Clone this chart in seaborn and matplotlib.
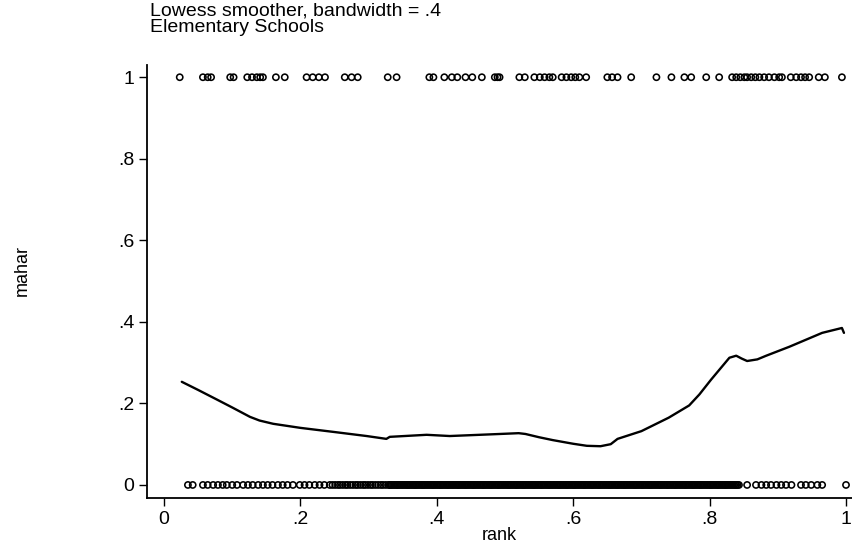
import matplotlib
matplotlib.use("Agg")
import matplotlib.pyplot as plt
import seaborn as sns
import pandas as pd

# ---- data ----
rank_ones = [0.023, 0.057, 0.064, 0.069, 0.097, 0.102, 0.122, 0.129, 0.136, 0.141,
             0.145, 0.164, 0.177, 0.209, 0.218, 0.227, 0.236, 0.265, 0.275, 0.284,
             0.328, 0.341, 0.389, 0.395, 0.411, 0.422, 0.430, 0.442, 0.452, 0.466,
             0.485, 0.489, 0.492, 0.521, 0.529, 0.543, 0.551, 0.558, 0.565, 0.570,
             0.583, 0.590, 0.597, 0.603, 0.609, 0.619, 0.650, 0.657, 0.665, 0.685,
             0.722, 0.744, 0.763, 0.773, 0.795, 0.814, 0.833, 0.839, 0.845, 0.851,
             0.855, 0.861, 0.867, 0.873, 0.880, 0.887, 0.895, 0.902, 0.906, 0.919,
             0.927, 0.934, 0.940, 0.946, 0.960, 0.969, 0.994]

rank_zeros_sparse = [0.035, 0.042, 0.057, 0.064, 0.072, 0.079, 0.086, 0.092, 0.100,
                     0.107, 0.116, 0.123, 0.130, 0.138, 0.145, 0.152, 0.159, 0.167,
                     0.174, 0.181, 0.189, 0.199, 0.206, 0.213, 0.221, 0.228, 0.235,
                     0.243]

rank_zeros_dense_a = [
    0.247, 0.251, 0.255, 0.258, 0.262, 0.266, 0.269, 0.273, 0.277, 0.281,
    0.284, 0.288, 0.292, 0.295, 0.299, 0.303, 0.306, 0.310, 0.314, 0.318,
    0.321, 0.325, 0.329, 0.332, 0.336, 0.340, 0.343, 0.347, 0.351, 0.355,
    0.358, 0.362, 0.366, 0.369, 0.373, 0.377, 0.380, 0.384, 0.388, 0.392,
    0.395, 0.399, 0.403, 0.406, 0.410, 0.414, 0.417, 0.421, 0.425, 0.429,
    0.432, 0.436, 0.440, 0.443, 0.447, 0.451, 0.454, 0.458, 0.462, 0.466,
    0.469, 0.473, 0.477, 0.480, 0.484, 0.488, 0.491, 0.495, 0.499, 0.503,
    0.506, 0.510, 0.514, 0.517, 0.521, 0.525, 0.528, 0.532, 0.536, 0.540,
    0.543, 0.547, 0.551, 0.554, 0.558, 0.562, 0.565, 0.569, 0.573, 0.577,
    0.580, 0.584, 0.588, 0.591, 0.595, 0.599, 0.602, 0.606, 0.610, 0.614,
    0.617, 0.621, 0.625, 0.628, 0.632, 0.636, 0.639, 0.643, 0.647, 0.651,
    0.654, 0.658, 0.662, 0.665, 0.669, 0.673, 0.676, 0.680, 0.684, 0.688,
    0.691, 0.695, 0.699, 0.702, 0.706, 0.710, 0.713, 0.717, 0.721, 0.725,
    0.728, 0.732, 0.736, 0.739, 0.743, 0.747, 0.750, 0.754, 0.758, 0.762,
    0.765, 0.769, 0.773, 0.776, 0.780, 0.784, 0.787, 0.791, 0.795, 0.799,
    0.802, 0.806, 0.810, 0.813, 0.817, 0.821, 0.824, 0.828, 0.832, 0.836,
    0.839, 0.843]

rank_zeros_dense_b = [
    0.331, 0.334, 0.338, 0.342, 0.345, 0.349, 0.353, 0.357, 0.360, 0.364,
    0.368, 0.371, 0.375, 0.379, 0.382, 0.386, 0.390, 0.394, 0.397, 0.401,
    0.405, 0.408, 0.412, 0.416, 0.419, 0.423, 0.427, 0.431, 0.434, 0.438,
    0.442, 0.445, 0.449, 0.453, 0.456, 0.460, 0.464, 0.468, 0.471, 0.475,
    0.479, 0.482, 0.486, 0.490, 0.493, 0.497, 0.501, 0.505, 0.508, 0.512,
    0.516, 0.519, 0.523, 0.527, 0.530, 0.534, 0.538, 0.542, 0.545, 0.549,
    0.553, 0.556, 0.560, 0.564, 0.567, 0.571, 0.575, 0.579, 0.582, 0.586,
    0.590, 0.593, 0.597, 0.601, 0.604, 0.608, 0.612, 0.616, 0.619, 0.623,
    0.627, 0.630, 0.634, 0.638, 0.641, 0.645, 0.649, 0.653, 0.656, 0.660,
    0.664, 0.667, 0.671, 0.675, 0.678, 0.682, 0.686, 0.690, 0.693, 0.697,
    0.701, 0.704, 0.708, 0.712, 0.715, 0.719, 0.723, 0.727, 0.730, 0.734,
    0.738, 0.741, 0.745, 0.749, 0.752, 0.756, 0.760, 0.764, 0.767, 0.771,
    0.775, 0.778, 0.782, 0.786, 0.789, 0.793, 0.797, 0.801, 0.804, 0.808,
    0.812, 0.815, 0.819, 0.823, 0.826, 0.830, 0.834, 0.838, 0.841]

rank_zeros_tail = [0.855, 0.868, 0.876, 0.883, 0.890, 0.898, 0.905, 0.912, 0.920,
                   0.934, 0.941, 0.949, 0.958, 0.965, 1.000]

lowess_x = [0.026, 0.050, 0.078, 0.100, 0.126, 0.140, 0.160, 0.180, 0.200, 0.249,
            0.297, 0.326, 0.331, 0.385, 0.419, 0.492, 0.520, 0.530, 0.550, 0.570,
            0.600, 0.620, 0.640, 0.655, 0.665, 0.700, 0.740, 0.770, 0.785, 0.802,
            0.818, 0.829, 0.839, 0.847, 0.855, 0.870, 0.883, 0.917, 0.965, 0.994,
            0.997]
lowess_y = [0.253, 0.233, 0.209, 0.190, 0.167, 0.158, 0.150, 0.145, 0.140, 0.130,
            0.120, 0.113, 0.118, 0.123, 0.120, 0.125, 0.127, 0.125, 0.117, 0.110,
            0.101, 0.096, 0.095, 0.100, 0.113, 0.132, 0.165, 0.195, 0.222, 0.258,
            0.290, 0.312, 0.317, 0.310, 0.304, 0.308, 0.317, 0.339, 0.373, 0.385,
            0.373]

x_ticks = [0, 0.2, 0.4, 0.6, 0.8, 1.0]
x_ticklabels = ["0", ".2", ".4", ".6", ".8", "1"]
y_ticks = [0, 0.2, 0.4, 0.6, 0.8, 1.0]
y_ticklabels = ["0", ".2", ".4", ".6", ".8", "1"]

# ---- build tables ----
rank_zeros = rank_zeros_sparse + rank_zeros_dense_a + rank_zeros_dense_b + rank_zeros_tail
pts = pd.DataFrame({
    "rank": rank_ones + rank_zeros,
    "mahar": [1.0] * len(rank_ones) + [0.0] * len(rank_zeros),
})
curve = pd.DataFrame({"rank": lowess_x, "mahar": lowess_y})

sns.set_theme(style="ticks")
plt.rcParams["font.family"] = ["Liberation Sans", "DejaVu Sans"]

fig = plt.figure(figsize=(8.53, 5.5), dpi=100)
ax = fig.add_axes([147 / 853, 1 - 498 / 550, 1 - 147 / 853 - 0.001, (498 - 65) / 550])

sns.scatterplot(data=pts, x="rank", y="mahar", ax=ax, marker="o", s=20,
                facecolors="none", edgecolors="black", linewidth=1.15, zorder=3)
sns.lineplot(data=curve, x="rank", y="mahar", ax=ax, sort=False, estimator=None,
             color="black", linewidth=1.7, zorder=4)

ax.set_xlim(-0.025, 1.009)
ax.set_ylim(-0.032, 1.03)
ax.set_xticks(x_ticks)
ax.set_xticklabels(x_ticklabels, fontsize=14)
ax.set_yticks(y_ticks)
ax.set_yticklabels(y_ticklabels, fontsize=14)
ax.tick_params(axis="both", direction="out", length=6, width=1.0, color="black",
               labelcolor="black", pad=3)
for side in ["top", "right"]:
    ax.spines[side].set_visible(False)
for side in ["left", "bottom"]:
    ax.spines[side].set_color("black")
    ax.spines[side].set_linewidth(1.3)

ax.set_xlabel("rank", fontsize=13, color="black", labelpad=0)
ax.set_ylabel("")
fig.text(22 / 853, 1 - 270 / 550, "mahar", rotation=90, ha="center", va="center",
         fontsize=13, color="black")

fig.text(150 / 853, 1 - 11 / 550, "Lowess smoother, bandwidth = .4", ha="left",
         va="center", fontsize=14, color="black")
fig.text(150 / 853, 1 - 28 / 550, "Elementary Schools", ha="left", va="center",
         fontsize=14, color="black")

fig.savefig("out.png", dpi=100, facecolor="white")
